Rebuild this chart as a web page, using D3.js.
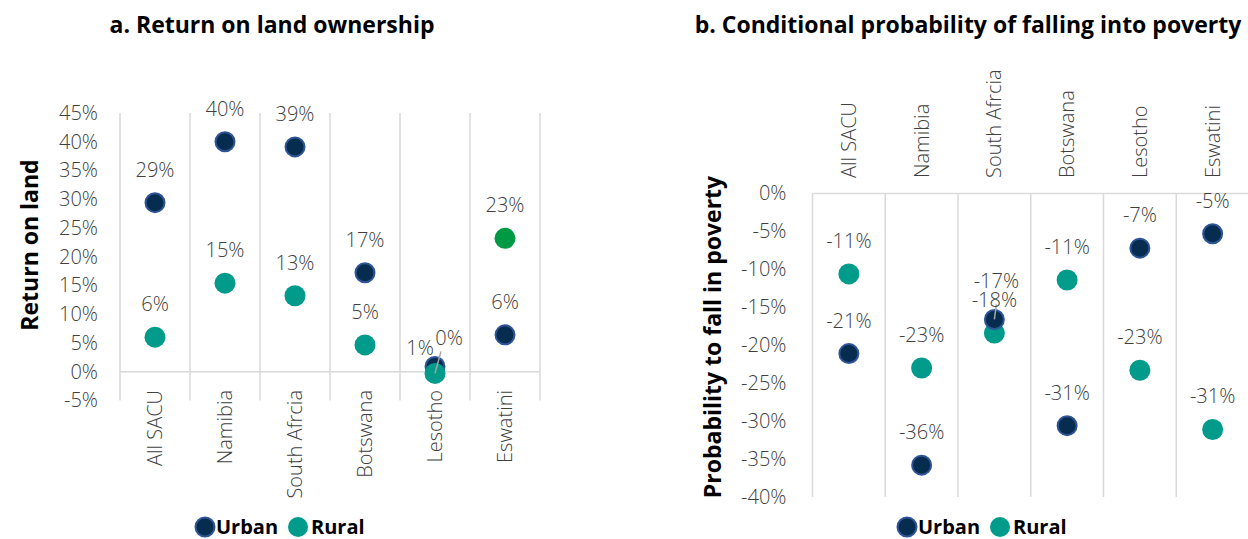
<!DOCTYPE html>
<html>
<head>
<meta charset="utf-8">
<script src="https://cdn.jsdelivr.net/npm/d3@7"></script>
<style>
  html, body { margin: 0; padding: 0; background: #fff; }
  svg { display: block; font-family: "Open Sans", "Noto Sans", sans-serif; }
</style>
</head>
<body>
<svg id="chart" width="1248" height="539"></svg>
<script>
// ---------------- DATA ----------------
const categories = ["All SACU", "Namibia", "South Afrcia", "Botswana", "Lesotho", "Eswatini"];
const seriesNames = ["Urban", "Rural"];

// Panel a: Return on land ownership
const returnUrban = [0.294, 0.400, 0.391, 0.172, 0.009, 0.064];
const returnRural = [0.060, 0.154, 0.132, 0.0465, -0.003, 0.232];
const returnTicks = [-0.05, 0, 0.05, 0.10, 0.15, 0.20, 0.25, 0.30, 0.35, 0.40, 0.45];

// Panel b: Conditional probability of falling into poverty
const povertyUrban = [-0.211, -0.358, -0.166, -0.306, -0.072, -0.053];
const povertyRural = [-0.106, -0.230, -0.184, -0.114, -0.233, -0.311];
const povertyTicks = [0, -0.05, -0.10, -0.15, -0.20, -0.25, -0.30, -0.35, -0.40];

// ---------------- STYLE ----------------
const C = {
  urbanFill: "#062D4F", urbanStroke: "#2F5597",
  rural: "#009B8B", ruralHighlight: "#009A44",
  grid: "#D9D9D9", text: "#404040", leader: "#A6A6A6"
};
const FS = 20;          // regular text size
const FW = 300;         // regular text weight
const fmt = d3.formatLocale({decimal: ".", thousands: ",", grouping: [3], currency: ["$", ""], minus: "-"}).format(".0%");

const svg = d3.select("#chart");

function panel(cfg) {
  const g = svg.append("g");
  const x = d3.scaleBand().domain(categories).range(cfg.xRange);
  const y = d3.scaleLinear().domain(cfg.yDomain).range(cfg.yRange);

  // title
  g.append("text").attr("x", cfg.titleX).attr("y", 33)
    .attr("text-anchor", "middle").attr("font-weight", 700).attr("font-size", 23)
    .attr("fill", "#000").text(cfg.title);

  // vertical grid lines (category boundaries)
  const bounds = categories.map(c => x(c)).concat([x.range()[1]]);
  g.append("g").selectAll("line").data(bounds).join("line")
    .attr("x1", d => d).attr("x2", d => d)
    .attr("y1", y.range()[1]).attr("y2", y.range()[0])
    .attr("stroke", C.grid).attr("stroke-width", 1.5);

  // zero line
  g.append("line").attr("x1", x.range()[0]).attr("x2", x.range()[1])
    .attr("y1", y(0)).attr("y2", y(0)).attr("stroke", C.grid).attr("stroke-width", 1.5);

  // y axis
  const ax = g.append("g").attr("transform", `translate(${x.range()[0]},0)`)
    .call(d3.axisLeft(y).tickValues(cfg.ticks).tickFormat(fmt).tickSize(0).tickPadding(cfg.tickPad));
  ax.select(".domain").remove();
  ax.selectAll("text").attr("font-size", FS).attr("fill", C.text)
    .attr("font-family", "\"Open Sans\", sans-serif").attr("font-weight", FW);

  // y axis title
  g.append("text")
    .attr("transform", `translate(${cfg.yTitleX},${cfg.yTitleY}) rotate(-90)`)
    .attr("text-anchor", "middle").attr("font-weight", 700).attr("font-size", 23)
    .attr("fill", "#000").text(cfg.yTitle);

  // category labels (rotated)
  g.append("g").selectAll("text").data(categories).join("text")
    .attr("transform", c => `translate(${x(c) + x.bandwidth() / 2},${cfg.catY}) rotate(-90)`)
    .attr("text-anchor", cfg.catAnchor).attr("dy", "0.35em")
    .attr("font-size", FS).attr("font-weight", FW).attr("fill", C.text).text(c => c);

  // points
  const pts = [];
  categories.forEach((c, i) => {
    pts.push({s: "Urban", i, c, v: cfg.urban[i]});
    pts.push({s: "Rural", i, c, v: cfg.rural[i]});
  });
  const cx = d => x(d.c) + x.bandwidth() / 2;

  const order = cfg.drawOrder === "urbanFirst" ? pts.filter(p => p.s === "Urban").concat(pts.filter(p => p.s === "Rural"))
    : pts.filter(p => p.s === "Rural").concat(pts.filter(p => p.s === "Urban"));
  g.append("g").selectAll("circle").data(order).join("circle")
    .attr("cx", cx).attr("cy", d => y(d.v))
    .attr("r", d => d.s === "Urban" ? 9.5 : 10.5)
    .attr("fill", d => d.s === "Urban" ? C.urbanFill : ((cfg.highlight && cfg.highlight(d)) ? C.ruralHighlight : C.rural))
    .attr("stroke", d => d.s === "Urban" ? C.urbanStroke : "none")
    .attr("stroke-width", 2);

  // leader lines above points
  (cfg.leaders || []).forEach(l => {
    const d = pts.find(p => p.s === l.s && p.i === l.i);
    g.append("line")
      .attr("x1", cx(d) + l.fx).attr("y1", y(d.v) + l.fy)
      .attr("x2", cx(d)).attr("y2", y(d.v))
      .attr("stroke", C.leader).attr("stroke-width", 1.5);
  });

  // data labels
  g.append("g").selectAll("text").data(pts).join("text")
    .attr("x", d => cx(d) + ((cfg.labelOff[d.s + d.i] || {}).dx || 0))
    .attr("y", d => y(d.v) + ((cfg.labelOff[d.s + d.i] || {}).dy ?? -33))
    .attr("dy", "0.35em").attr("text-anchor", "middle")
    .attr("font-size", FS).attr("font-weight", FW).attr("fill", C.text).text(d => fmt(d.v));

  // legend
  const lg = g.append("g").attr("transform", `translate(${cfg.legendX},527)`);
  lg.append("circle").attr("cx", 0).attr("cy", 0).attr("r", 9.5)
    .attr("fill", C.urbanFill).attr("stroke", C.urbanStroke).attr("stroke-width", 2);
  lg.append("text").attr("x", 11).attr("y", 7).attr("font-weight", 700).attr("font-size", 20)
    .attr("fill", "#000").text(seriesNames[0]);
  lg.append("circle").attr("cx", 93).attr("cy", 0).attr("r", 10).attr("fill", C.rural);
  lg.append("text").attr("x", 106).attr("y", 7).attr("font-weight", 700).attr("font-size", 20)
    .attr("fill", "#000").text(seriesNames[1]);
}

panel({
  title: "a. Return on land ownership", titleX: 272,
  xRange: [120, 540], yDomain: [-0.05, 0.45], yRange: [400.4, 113],
  ticks: returnTicks, tickPad: 22,
  yTitle: "Return on land", yTitleX: 38, yTitleY: 245,
  catY: 390, catAnchor: "end",
  urban: returnUrban, rural: returnRural,
  highlight: d => d.c === "Eswatini",
  drawOrder: "urbanFirst",
  labelOff: { Urban4: {dx: -15, dy: -18}, Rural4: {dx: 14, dy: -35} },
  leaders: [{s: "Rural", i: 4, fx: 6, fy: -22}],
  legendX: 205
});

panel({
  title: "b. Conditional probability of falling into poverty", titleX: 968,
  xRange: [812.5, 1249], yDomain: [-0.40, 0], yRange: [497, 193.5],
  ticks: povertyTicks, tickPad: 26,
  yTitle: "Probability to fall in poverty", yTitleX: 721, yTitleY: 337,
  catY: 178, catAnchor: "start",
  urban: povertyUrban, rural: povertyRural,
  drawOrder: "ruralFirst",
  labelOff: { Urban2: {dx: 2, dy: -38} },
  leaders: [{s: "Urban", i: 2, fx: 2, fy: -15}],
  legendX: 907
});
</script>
</body>
</html>
